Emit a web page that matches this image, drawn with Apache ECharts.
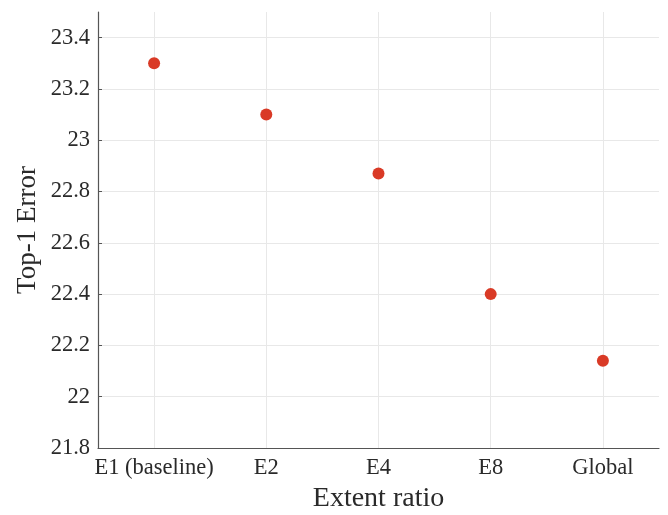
<!DOCTYPE html>
<html>
<head>
<meta charset="utf-8">
<script src="https://cdn.jsdelivr.net/npm/echarts@6/dist/echarts.min.js"></script>
<style>html,body{margin:0;padding:0;background:#fff;}#c{width:668px;height:515px;}</style>
</head>
<body>
<div id="c"></div>
<script>
var categories = ['E1 (baseline)', 'E2', 'E4', 'E8', 'Global'];
var errors = [23.3, 23.1, 22.87, 22.4, 22.14];
var yTicks = [21.8, 22, 22.2, 22.4, 22.6, 22.8, 23, 23.2, 23.4];

var font = 'Liberation Serif';
var chart = echarts.init(document.getElementById('c'));
chart.setOption({
  animation: false,
  grid: {left: 98, right: 9, top: 12, bottom: 67, containLabel: false, outerBoundsMode: 'none'},
  xAxis: {
    type: 'category',
    data: categories,
    boundaryGap: true,
    name: 'Extent ratio',
    nameLocation: 'middle',
    nameGap: 37,
    nameMoveOverlap: false,
    nameTextStyle: {fontFamily: font, fontSize: 28, color: '#2a2a2a'},
    axisLine: {lineStyle: {color: '#555', width: 1.2}},
    axisTick: {show: true, inside: true, alignWithLabel: true, interval: 0, length: 4, lineStyle: {color: '#555'}},
    axisLabel: {fontFamily: font, fontSize: 22.5, color: '#2a2a2a', margin: 9, interval: 0},
    splitLine: {show: false}
  },
  yAxis: {
    type: 'value',
    min: 21.8,
    max: 23.5,
    interval: 0.2,
    name: 'Top-1 Error',
    nameLocation: 'middle',
    nameGap: 57,
    nameMoveOverlap: false,
    nameTextStyle: {fontFamily: font, fontSize: 27, color: '#2a2a2a'},
    axisLine: {show: true, lineStyle: {color: '#555', width: 1.2}},
    axisTick: {show: true, inside: true, length: 4, lineStyle: {color: '#555'}},
    axisLabel: {
      fontFamily: font, fontSize: 22.5, color: '#2a2a2a', margin: 8, showMaxLabel: false,
      formatter: function (v) {
        for (var i = 0; i < yTicks.length; i++) {
          if (Math.abs(yTicks[i] - v) < 1e-6) return String(yTicks[i]);
        }
        return '';
      }
    },
    splitLine: {show: true, showMaxLine: false, lineStyle: {color: '#e8e8e8', width: 1}}
  },
  series: [
    {
      type: 'scatter',
      z: 1,
      data: [],
      silent: true,
      markLine: {
        z: 1,
        silent: true,
        symbol: ['none', 'none'],
        label: {show: false},
        lineStyle: {color: '#e8e8e8', width: 1, type: 'solid'},
        data: categories.map(function (c) { return {xAxis: c}; })
      }
    },
    {
      type: 'scatter',
      z: 10,
      symbolSize: 12,
      itemStyle: {color: '#d93a26', opacity: 1},
      data: errors
    }
  ]
});
</script>
</body>
</html>
